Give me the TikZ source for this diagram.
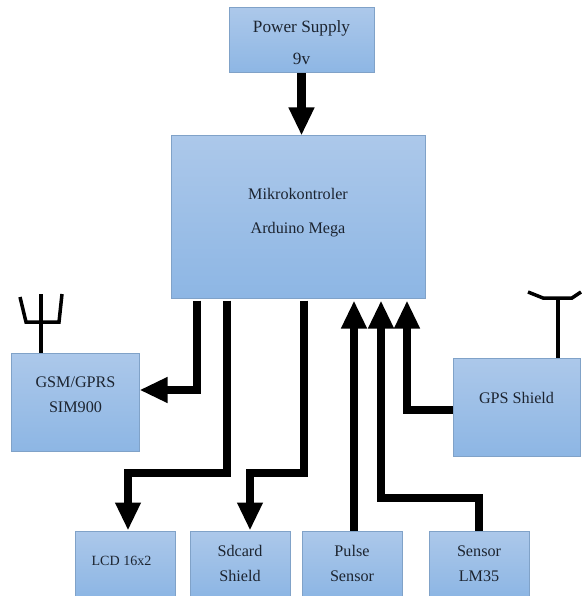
\documentclass[tikz,border=0pt]{standalone}
\usepackage{fontspec}
\setmainfont{Liberation Serif}
\usetikzlibrary{calc,arrows.meta,positioning}
\definecolor{blokatas}{RGB}{172,200,234}
\definecolor{blokbawah}{RGB}{141,182,228}
\definecolor{blokgaris}{RGB}{128,162,200}
\definecolor{tulisan}{RGB}{28,36,48}

\begin{document}
\begin{tikzpicture}[x=0.2mm,y=-0.2mm,font=\fontsize{9.2}{11}\selectfont,text=tulisan,
      blok/.style={draw=blokgaris,line width=0.2mm,top color=blokatas,bottom color=blokbawah,align=center,inner sep=0pt},
      bawah/.style={blok,minimum width=20mm,minimum height=13mm},
      teks/.style={align=center,inner sep=0pt},
      panah/.style={line width=1.7mm,-{Triangle[length=5.6mm,width=4.8mm]},shorten >=0.4mm},
      antena/.style={line width=0.7mm,black}]
    \useasboundingbox (0,0) rectangle (581,596);
    \node[blok,minimum width=29mm,minimum height=13mm] (power) at (301.5,40.5) {};
    \node[teks,font=\fontsize{9.8}{12}\selectfont] (powerteks) at (301.5,42.5) {Power Supply\\[6.5pt]9v};
    \node[blok,minimum width=50.8mm,minimum height=32.4mm] (mikro) at (298,217) {};
    \node[teks] (mikroteks) at (298,213) {Mikrokontroler\\[8.5pt]Arduino Mega};
    \node[blok,minimum width=25.4mm,minimum height=19.6mm] (gsm) at (75.5,402) {};
    \node[teks] (gsmteks) at (75.5,395) {GSM/GPRS\\[3pt]SIM900};
    \node[blok,minimum width=25.4mm,minimum height=19.6mm] (gps) at (516.5,407) {};
    \node[teks] (gpsteks) at (516.5,398) {GPS Shield};
    \node[bawah,font=\fontsize{8}{10}\selectfont] (lcd) at (125,563.5) {};
    \node[teks,font=\fontsize{8}{10}\selectfont] (lcdteks) at (121.5,561) {LCD 16x2};
    \node[bawah] (sdcard) at (240,563.5) {Sdcard\\[3pt]Shield};
    \node[bawah] (pulse) at (352,563.5) {Pulse\\[3.5pt]Sensor};
    \node[bawah] (lm) at (479,563.5) {Sensor\\[3pt]LM35};
    % keluaran
    \draw[panah,shorten >=0pt] (power.south) -- (power.south |- mikro.north);
    \draw[panah,shorten >=0pt,shorten <=0.4mm] (197,0 |- mikro.south) |- (gsm.east |- 0,390);
    \draw[panah,shorten >=0pt,shorten <=0.4mm] (227,0 |- mikro.south) |- (128,473) -- (128,0 |- lcd.north);
    \draw[panah,shorten >=0pt,shorten <=0.4mm] (304,0 |- mikro.south) |- (250,473) -- (250,0 |- sdcard.north);
    % masukan
    \draw[panah] (354,0 |- pulse.north) -- (354,0 |- mikro.south);
    \draw[panah] (lm.north) |- (381,498) -- (381,0 |- mikro.south);
    \draw[panah] (gps.west |- 0,410) -| (407,0 |- mikro.south);
    % antena
    \coordinate (gsmujung) at (41,294);
    \draw[antena,line width=0.8mm] (41,0 |- gsm.north) -- (gsmujung);
    \draw[antena] (20,297) -- (26,322) -- (59,322) -- (62,294);
    \coordinate (gpsujung) at (558,298);
    \draw[antena,line width=0.8mm] (558,0 |- gps.north) -- (gpsujung);
    \draw[antena] (528,292) -- (543,298) -- (572,298) -- (581,292);
  \end{tikzpicture}
\end{document}
